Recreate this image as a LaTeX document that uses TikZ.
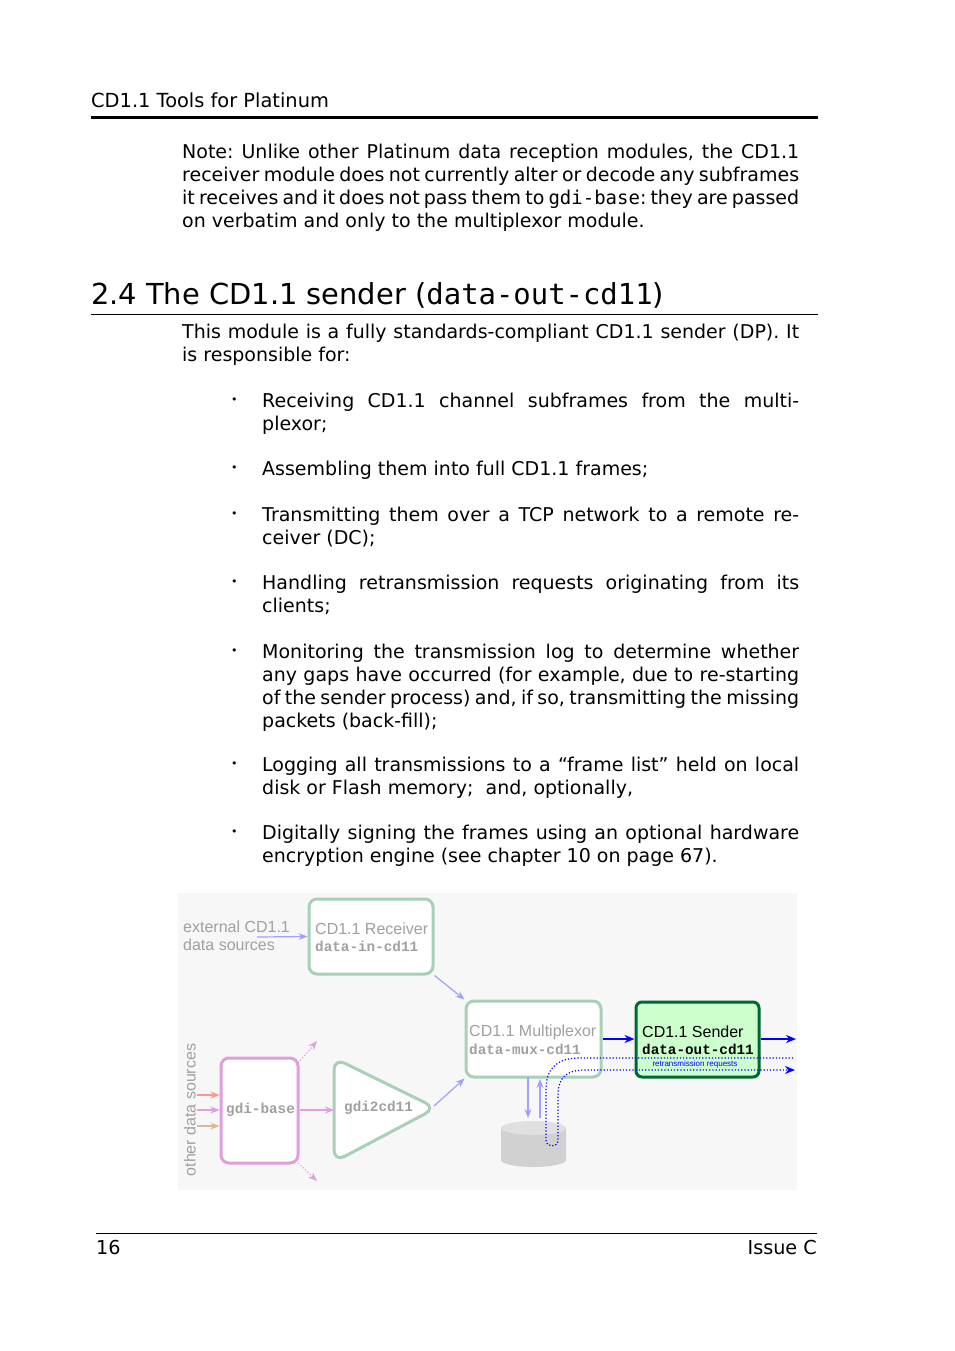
\documentclass[tikz,border=0pt]{standalone}
\usepackage{fontspec}
\setmainfont{DejaVu Sans}
\setmonofont{DejaVu Sans Mono}
\newfontfamily\dsans{Liberation Sans}
\newfontfamily\dmono{Liberation Mono}
\usetikzlibrary{arrows.meta}
\newcommand\nohyph{\hyphenpenalty=10000 \exhyphenpenalty=10000 \frenchspacing\relax}
\definecolor{gbord}{HTML}{A8D0B8}
\definecolor{ltxt}{HTML}{A0A0A0}
\definecolor{larr}{HTML}{A0A0FF}
\definecolor{vio}{HTML}{DDA0DD}
\definecolor{sfill}{HTML}{CCFFCC}
\definecolor{sbord}{HTML}{006633}
\tikzset{
 body/.style={anchor=north west,inner sep=0pt,font=\fontsize{19}{22.8}\selectfont,align=justify},
 bul/.style={anchor=north west,inner sep=0pt,font=\fontsize{11}{12}\selectfont},
 gbox/.style={draw=gbord,line width=3pt,rounded corners=8pt,fill=white,inner sep=0pt},
 la/.style={draw=larr,line width=1.2pt,-{Stealth[length=9pt,width=7pt]}},
 ba/.style={draw=blue,line width=1.4pt,-{Stealth[length=10pt,width=8pt]}},
 dtxt/.style={inner sep=0pt,anchor=west,font=\dsans\fontsize{16}{17}\selectfont,text=ltxt},
 mtxt/.style={inner sep=0pt,anchor=west,font=\dmono\bfseries\fontsize{14.3}{15}\selectfont,text=ltxt},
}
\begin{document}
\begin{tikzpicture}[x=1pt,y=-1pt]
\useasboundingbox (0,0) rectangle (954,1351);
\fill[white] (0,0) rectangle (954,1351);
% header
\node[anchor=base west,inner sep=0pt,font=\fontsize{19.4}{22}\selectfont] (hdr) at (91,108) {CD1.1 Tools for Platinum};
\draw[line width=3pt] (91,118) -- (818,118);
\node[body,text width=617pt] (note) at (182,144) {\nohyph Note: Unlike other Platinum data reception modules, the CD1.1 receiver module does not currently alter or decode any subframes it receives and it does not pass them to \texttt{gdi-base}: they are passed on verbatim and only to the multiplexor module.};
\node[anchor=base west,inner sep=0pt,font=\fontsize{28.9}{32}\selectfont] (sec) at (91,304) {2.4 The CD1.1 sender (\texttt{data-out-cd11})};
\draw[line width=0.8pt] (91,314) -- (818,314);
\node[body,text width=617pt] (intro) at (182,324) {\nohyph This module is a fully standards-compliant CD1.1 sender (DP). It is responsible for:};
\foreach \y/\t [count=\i] in {393/{Receiving CD1.1 channel subframes from the multiplexor;},
 461/{Assembling them into full CD1.1 frames;},
 507/{Transmitting them over a TCP network to a remote receiver (DC);},
 575/{Handling retransmission requests originating from its clients;},
 644/{Monitoring the transmission log to determine whether any gaps have occurred (for example, due to re-starting of the sender process) and, if so, transmitting the missing packets (back-fill);},
 757/{Logging all transmissions to a “frame list” held on local disk or Flash memory;\ \ and, optionally,},
 825/{Digitally signing the frames using an optional hardware encryption engine (see chapter 10 on page 67).}}
 {\node[bul] (b\i) at (231,\y+5) {•};
  \node[body,text width=537pt] (it\i) at (262,\y) {\nohyph\t};}
% diagram background
\fill[black!3] (178,893) rectangle (797,1190);
% receiver
\node[dtxt,align=left,font=\dsans\fontsize{16}{18}\selectfont] (ext) at (183,936) {external CD1.1\\data sources};
\node[gbox,minimum width=124pt,minimum height=75pt] (rcv) at (371,936.5) {};
\node[dtxt] (rcvt) at (315,929) {CD1.1 Receiver};
\node[mtxt] (rcvm) at (315,946) {data-in-cd11};
\draw[la] (257,937) -- (rcv.west);
% mux
\node[gbox,minimum width=135pt,minimum height=76pt] (mux) at (533.5,1039) {};
\node[dtxt] (muxt) at (469,1032) {CD1.1 Multiplexor};
\node[mtxt] (muxm) at (469,1049) {data-mux-cd11};
\draw[la] (rcv.south east) -- (mux.north west);
% cylinder
\fill[black!18] (501,1128) -- (501,1160) arc[start angle=180,end angle=360,x radius=32.5pt,y radius=7pt] -- (566,1128) -- cycle;
\fill[black!12] (533.5,1128) ellipse[x radius=32.5pt,y radius=7pt];
\coordinate (cyl) at (533.5,1120);
\draw[la] (528,1077) -- (528,1118);
\draw[la] (540,1118) -- (540,1079);
% sender
\node[draw=sbord,line width=3pt,fill=sfill,rounded corners=6pt,minimum width=123pt,minimum height=75pt,inner sep=0pt] (snd) at (697.5,1039.5) {};
\node[dtxt,text=black] (sndt) at (642,1032) {CD1.1 Sender};
\node[mtxt,text=black] (sndm) at (642,1049) {data-out-cd11};
\node[inner sep=0pt,font=\dsans\fontsize{8}{9}\selectfont,text=blue] (rr) at (695,1064) {retransmission requests};
\draw[ba] (mux.east |- 0,1039) -- (snd.west |- 0,1039);
\coordinate (o1) at (796,1039);
\draw[ba] (snd.east |- 0,1039) -- (o1);
\coordinate (d1) at (793,1058);
\coordinate (d2) at (795,1070);
\draw[blue,line width=1.2pt,dotted,-{Stealth[length=10pt,width=8pt]}] (d1) -- (580,1058) .. controls (555,1058) and (546,1070) .. (546,1090) -- (546,1140) .. controls (546,1148) and (558,1148) .. (558,1140) -- (558,1095) .. controls (558,1078) and (566,1070) .. (585,1070) -- (d2);
% gdi-base
\node[draw=vio,line width=3pt,rounded corners=8pt,fill=white,minimum width=77pt,minimum height=105pt,inner sep=0pt] (gdi) at (259.5,1110.5) {};
\node[mtxt] (gdit) at (226,1110) {gdi-base};
\node[rotate=90,inner sep=0pt,font=\dsans\fontsize{16}{17}\selectfont,text=ltxt] (oth) at (190,1110) {other data sources};
\draw[la,draw={rgb,255:red,250;green,150;blue,150}] (197,1095) -- (gdi.west |- 0,1095);
\draw[la,draw=vio] (197,1110) -- (gdi.west |- 0,1110);
\draw[la,draw={rgb,255:red,215;green,185;blue,160}] (197,1126) -- (gdi.west |- 0,1126);
\coordinate (u1) at (317,1041);
\coordinate (u2) at (317,1181);
\draw[la,draw=vio,dotted] (298,1063) -- (u1);
\draw[la,draw=vio,dotted] (298,1163) -- (u2);
% gdi2cd11 triangle
\draw[gbord,line width=3pt,fill=white,rounded corners=12pt] (334,1058) -- (334,1162) -- (436,1108) -- cycle;
\coordinate (tri) at (334,1110);
\coordinate (tritip) at (434,1106);
\node[mtxt] (g2c) at (344,1108) {gdi2cd11};
\draw[la,draw=vio] (gdi.east |- 0,1110) -- (tri);
\draw[la] (tritip) -- (mux.south west);
% footer
\draw[line width=0.6pt] (96,1233) -- (817,1233);
\node[anchor=base west,inner sep=0pt,font=\fontsize{19.2}{22}\selectfont] (pg) at (96,1254) {16};
\node[anchor=base east,inner sep=0pt,font=\fontsize{19.2}{22}\selectfont] (iss) at (817,1254) {Issue C};
\end{tikzpicture}
\end{document}
